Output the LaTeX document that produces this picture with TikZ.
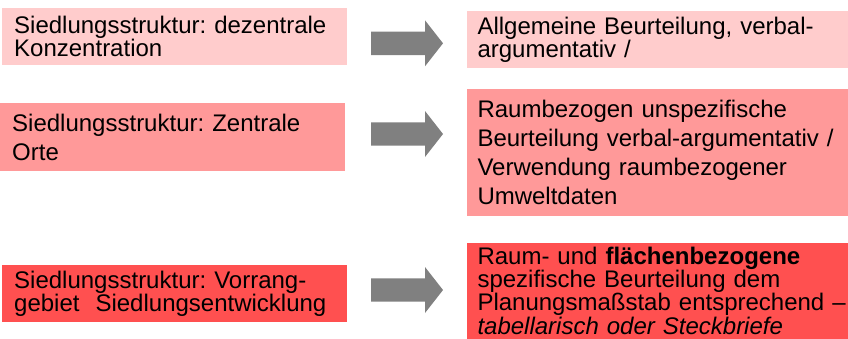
\documentclass[tikz,border=0pt]{standalone}
\usepackage{fontspec}
\setmainfont{Liberation Sans}
\frenchspacing
\definecolor{lightred}{HTML}{FFCCCC}
\definecolor{midred}{HTML}{FF9999}
\definecolor{strongred}{HTML}{FF5050}
\definecolor{arrowgray}{HTML}{808080}
\tikzset{
  box/.style={anchor=north west, rectangle, draw=none, align=left, inner ysep=0pt},
  leftbox/.style={box, inner xsep=12bp, text width=321bp, minimum width=345bp},
  rightbox/.style={box, inner xsep=10.6bp, text width=380bp, minimum width=401bp},
  tight/.style={font=\fontsize{24bp}{23.3bp}\selectfont},
  loose/.style={font=\fontsize{24bp}{28.8bp}\selectfont},
}
\newcommand\blockarrow[2]{%
  \fill[arrowgray] (371,{#1-11.7}) -- (425,{#1-11.7}) -- (425,{#1-23}) -- (443,#1)
    -- (425,{#1+23}) -- (425,{#1+11.7}) -- (371,{#1+11.7}) -- cycle;
  \coordinate (#2) at (407,#1);}
\begin{document}
\begin{tikzpicture}[x=1bp,y=-1bp]
\useasboundingbox (0,0) rectangle (848,338);
\clip (0,0) rectangle (848,338);
\fill[white] (0,0) rectangle (848,338);
% left boxes
\node[leftbox, tight, fill=lightred, minimum height=57bp] (l1) at (2,8)
  {Siedlungsstruktur: dezentrale\\Konzentration};
\node[leftbox, loose, fill=midred, minimum height=68bp, inner xsep=10.3bp] (l2) at (0,103)
  {Siedlungsstruktur: Zentrale\\Orte};
\node[leftbox, tight, fill=strongred, minimum height=57bp] (l3) at (2,265)
  {Siedlungsstruktur: Vorrang-\\gebiet\ \ Siedlungsentwicklung};
% arrows
\blockarrow{43.3}{a1}
\blockarrow{134}{a2}
\blockarrow{290}{a3}
% right boxes
\node[rightbox, tight, fill=lightred, minimum height=56.7bp] (r1) at (466.7,11)
  {Allgemeine Beurteilung, verbal-\\argumentativ /};
\node[rightbox, loose, fill=midred, minimum height=126.7bp] (r2) at (466.7,89)
  {Raumbezogen unspezifische\\Beurteilung verbal-argumentativ /\\Verwendung raumbezogener\\Umweltdaten};
\node[rightbox, tight, fill=strongred, minimum height=96bp] (r3) at (466.7,242.3)
  {Raum- und \textbf{flächenbezogene}\\spezifische Beurteilung dem\\Planungsmaßstab entsprechend –\\\textit{tabellarisch oder Steckbriefe}};
\end{tikzpicture}
\end{document}
